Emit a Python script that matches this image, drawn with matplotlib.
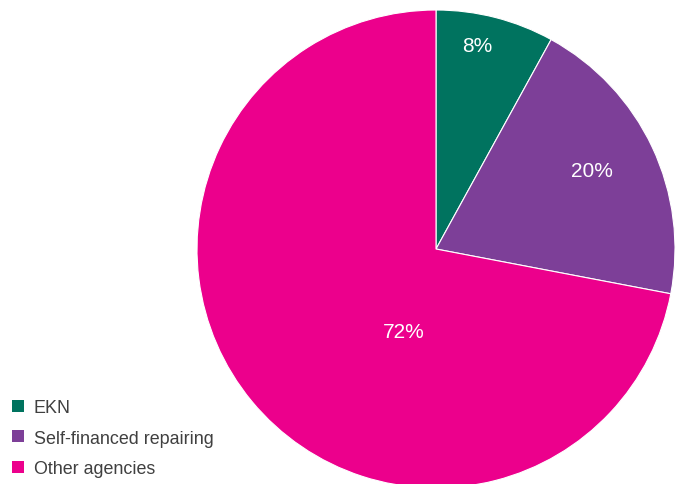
import numpy as np
import matplotlib.pyplot as plt
from matplotlib.patches import Patch

labels = ['EKN', 'Self-financed repairing', 'Other agencies']
shares = [8, 20, 72]
colors = ['#00735f', '#7d3f98', '#ec008c']
# label placement in wedge-relative terms: (distance from centre, angle offset in deg)
label_pos = [(0.87, 3), (0.73, 1.4), (0.37, 29)]

plt.rcParams['font.family'] = ['Liberation Sans', 'DejaVu Sans']

fig = plt.figure(figsize=(6.81, 4.85), dpi=100)
W, H = 681, 485
cx, cy, r = 436, 250, 239
ax = fig.add_axes([(cx - r) / W, (H - cy - r) / H, 2 * r / W, 2 * r / H])

wedges, _ = ax.pie(shares, colors=colors, startangle=90, counterclock=False,
                   radius=1, center=(0, 0), frame=False,
                   wedgeprops=dict(edgecolor='white', linewidth=0.8))
ax.set_xlim(-1, 1)
ax.set_ylim(-1, 1)
ax.set_aspect('equal')
ax.axis('off')

for w, s, (d, off) in zip(wedges, shares, label_pos):
    mid = np.deg2rad((w.theta1 + w.theta2) / 2 + off)
    ax.text(d * np.cos(mid), d * np.sin(mid), f'{s}%', color='white',
            fontsize=15, ha='center', va='center')

handles = [Patch(facecolor=c, edgecolor='none') for c in colors]
fig.legend(handles, labels, loc='lower left', bbox_to_anchor=(-0.006, -0.019),
           frameon=False, fontsize=12.9, labelcolor='#404040',
           handlelength=0.65, handleheight=0.65, handletextpad=0.55,
           labelspacing=0.75, borderaxespad=0.5)

fig.savefig('out.png', dpi=100)
